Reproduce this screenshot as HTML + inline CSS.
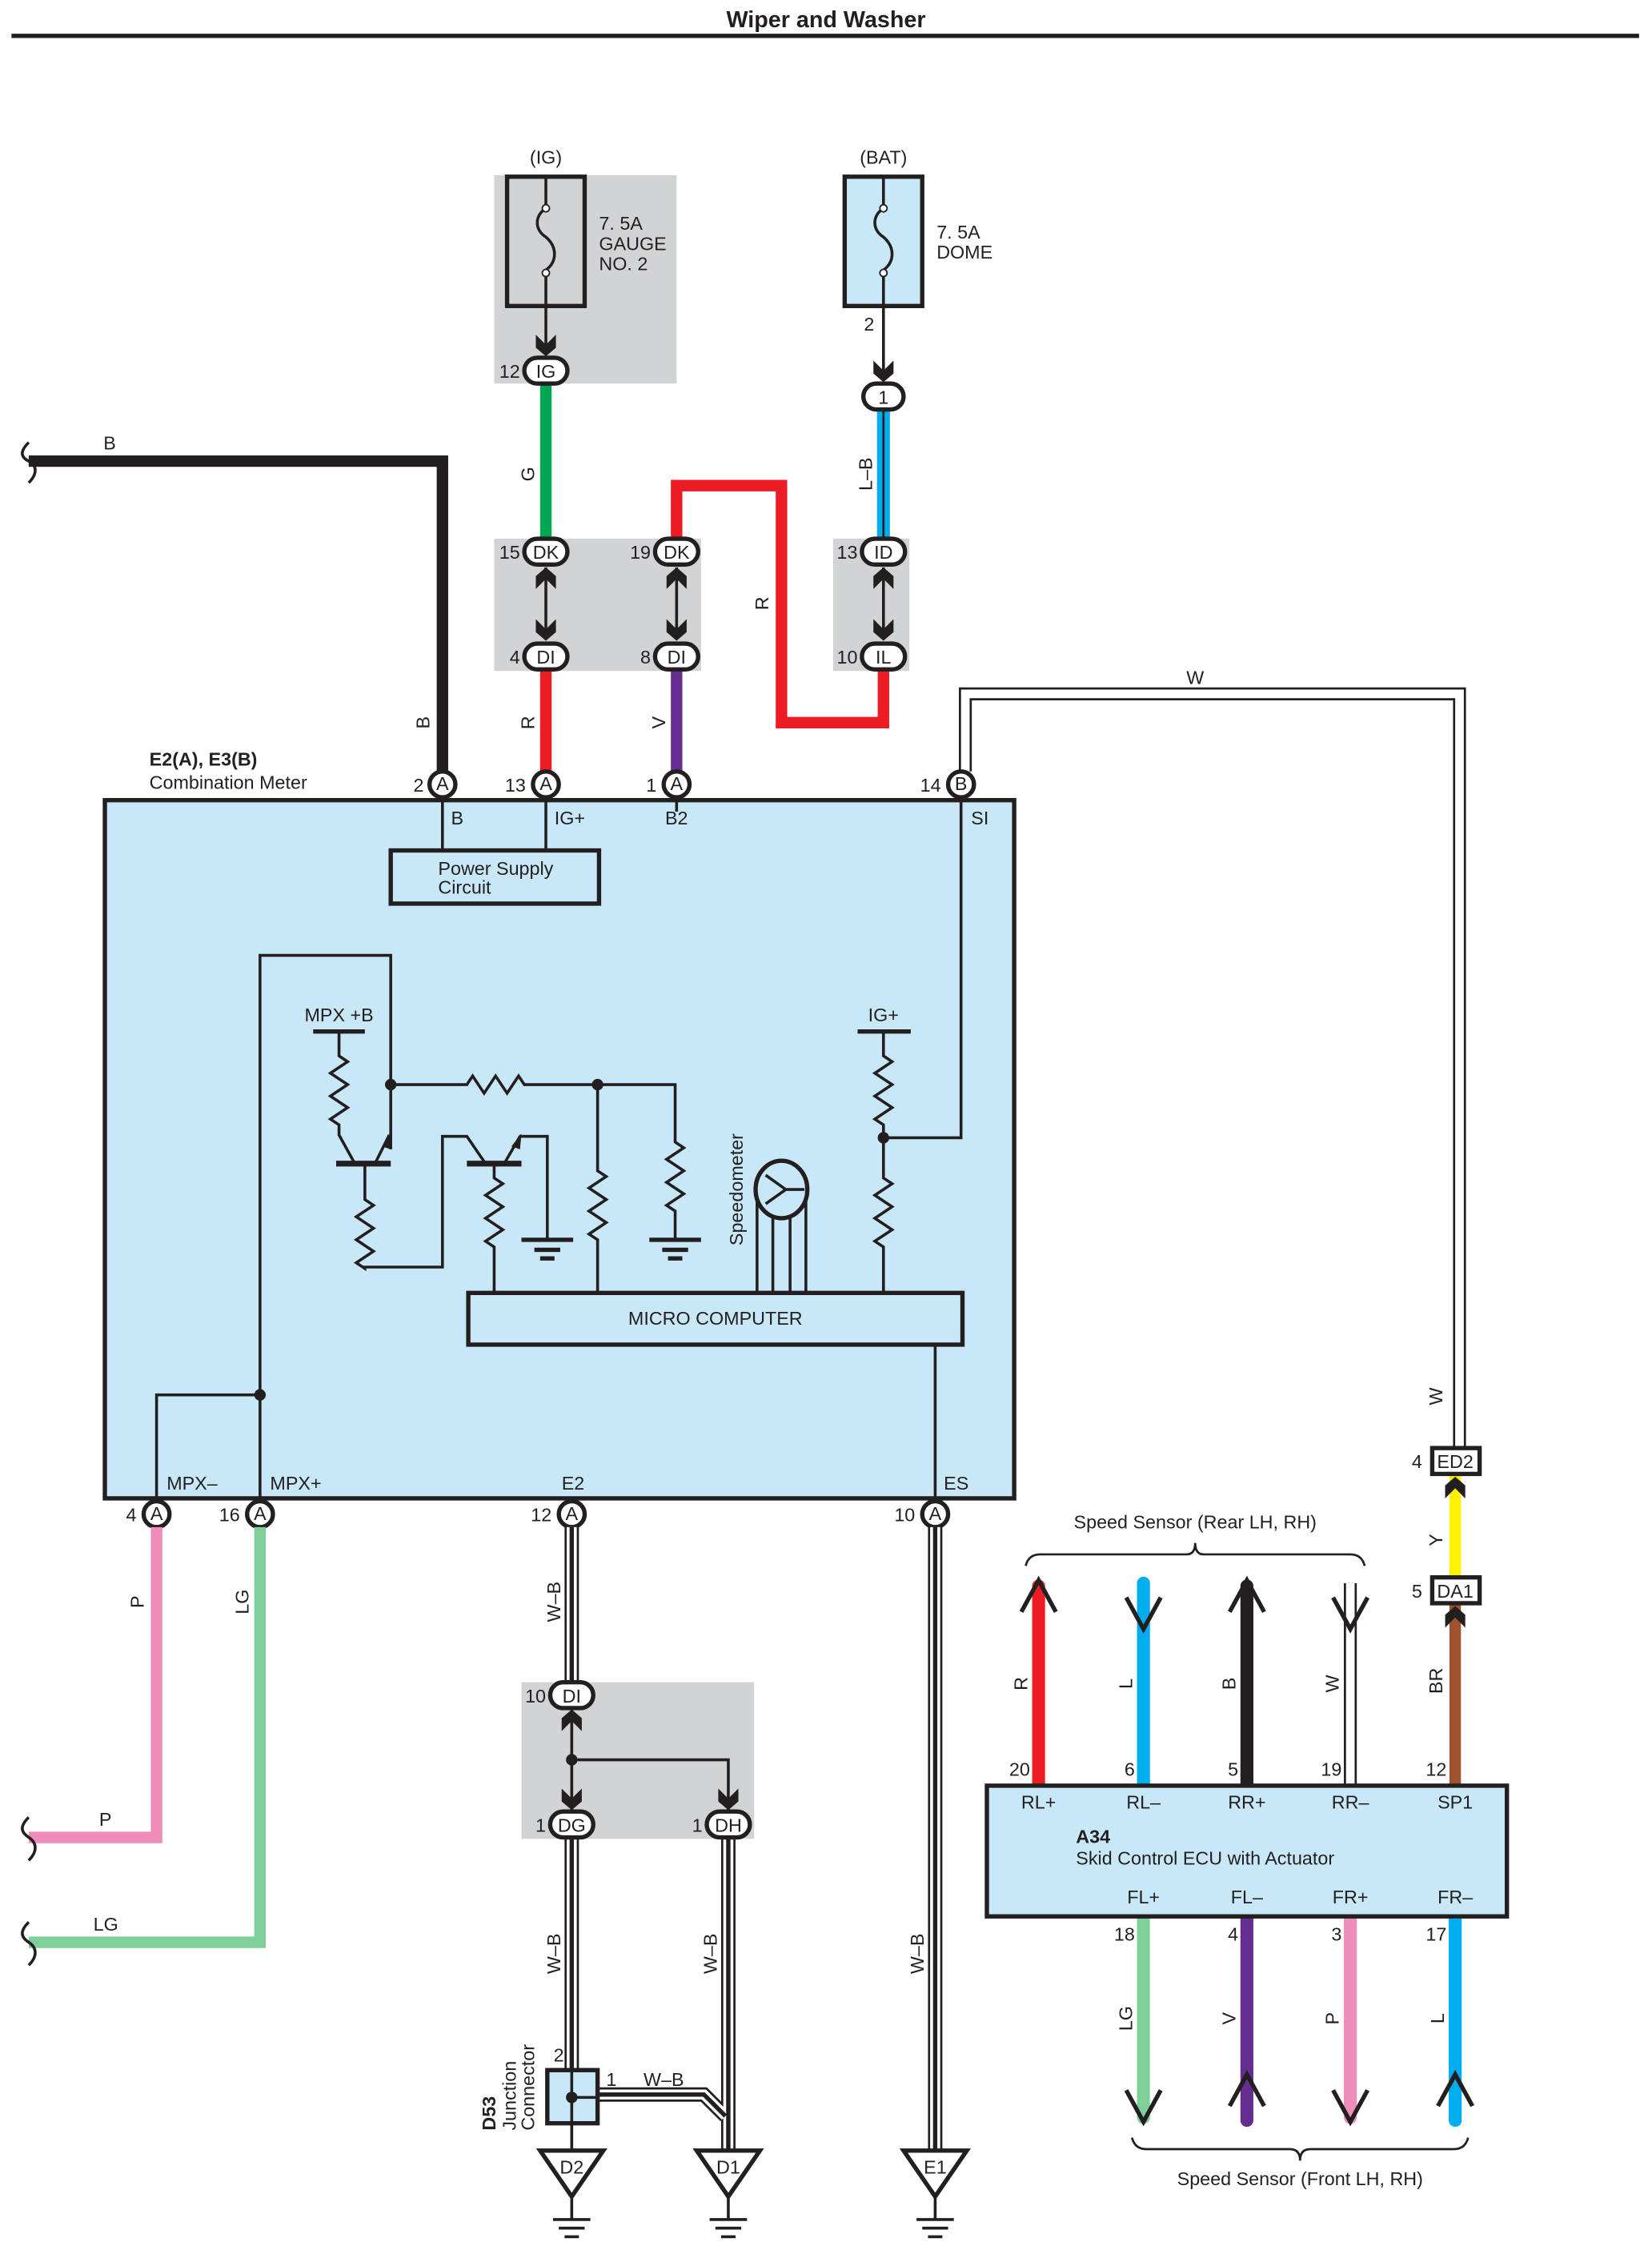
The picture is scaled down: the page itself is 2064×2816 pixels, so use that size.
<!DOCTYPE html>
<html><head><meta charset="utf-8"><style>
html,body{margin:0;padding:0;background:#fff}
svg{display:block}
text{font-family:"Liberation Sans",sans-serif;font-size:13px;fill:#231f20}
</style></head><body>
<svg width="2064" height="2816" viewBox="0 0 1150 1569" preserveAspectRatio="none" xmlns="http://www.w3.org/2000/svg">
<defs>
<g id="chd"><polygon points="-7,-15 0,-8 7,-15 7,-6 0,0 -7,-6" fill="#231f20"/></g>
<g id="chu"><polygon points="-7,15 0,8 7,15 7,6 0,0 -7,6" fill="#231f20"/></g>
</defs>
<text x="575" y="19" text-anchor="middle" font-weight="bold" style="font-size:16px">Wiper and Washer</text>
<line x1="8" y1="25" x2="1141" y2="25" stroke="#231f20" stroke-width="3"/>

<!-- gray boxes -->
<rect x="344" y="122" width="127" height="145" fill="#d1d3d4"/>
<rect x="344" y="375" width="144" height="92" fill="#d1d3d4"/>
<rect x="580" y="375" width="53" height="92" fill="#d1d3d4"/>
<rect x="363" y="1171" width="162" height="109" fill="#d1d3d4"/>

<!-- fuses -->
<text x="380" y="114" text-anchor="middle">(IG)</text>
<rect x="353" y="123" width="54" height="90" fill="#d1d3d4" stroke="#231f20" stroke-width="3"/>
<path d="M380 123 V145 C372 150 372 160 380 165 C388 172 388 182 380 188 V213" fill="none" stroke="#231f20" stroke-width="2"/>
<circle cx="380" cy="145" r="2.5" fill="#fff" stroke="#231f20"/><circle cx="380" cy="190" r="2.5" fill="#fff" stroke="#231f20"/>
<text x="417" y="160">7. 5A</text><text x="417" y="174">GAUGE</text><text x="417" y="188">NO. 2</text>
<text x="615" y="114" text-anchor="middle">(BAT)</text>
<rect x="588" y="123" width="54" height="90" fill="#c8e8f8" stroke="#231f20" stroke-width="3"/>
<path d="M615 123 V145 C607 150 607 160 615 165 C623 172 623 182 615 188 V213" fill="none" stroke="#231f20" stroke-width="2"/>
<circle cx="615" cy="145" r="2.5" fill="#fff" stroke="#231f20"/><circle cx="615" cy="190" r="2.5" fill="#fff" stroke="#231f20"/>
<text x="652" y="166">7. 5A</text><text x="652" y="180">DOME</text>
<text x="605" y="230" text-anchor="middle">2</text>
<line x1="380" y1="213" x2="380" y2="245" stroke="#231f20" stroke-width="2"/>
<use href="#chd" x="380" y="248"/>
<line x1="615" y1="213" x2="615" y2="263" stroke="#231f20" stroke-width="2"/>
<use href="#chd" x="615" y="266"/>

<!-- wires top -->
<line x1="380" y1="268" x2="380" y2="376" stroke="#00a651" stroke-width="8"/>
<text transform="translate(372,330) rotate(-90)" text-anchor="middle">G</text>
<line x1="615" y1="286" x2="615" y2="376" stroke="#00aeef" stroke-width="9"/>
<line x1="615" y1="286" x2="615" y2="376" stroke="#231f20" stroke-width="1.5"/>
<text transform="translate(607,330) rotate(-90)" text-anchor="middle">L–B</text>
<path d="M471 376 V338 H544 V503 H615 V467" fill="none" stroke="#ed1c24" stroke-width="8"/>
<text transform="translate(535,420) rotate(-90)" text-anchor="middle">R</text>
<path d="M20 321 H308 V537" fill="none" stroke="#231f20" stroke-width="8"/>
<text x="72" y="313">B</text>
<text transform="translate(299,503) rotate(-90)" text-anchor="middle">B</text>
<line x1="380" y1="467" x2="380" y2="537" stroke="#ed1c24" stroke-width="8"/>
<text transform="translate(372,503) rotate(-90)" text-anchor="middle">R</text>
<line x1="471" y1="467" x2="471" y2="537" stroke="#662d91" stroke-width="8"/>
<text transform="translate(463,503) rotate(-90)" text-anchor="middle">V</text>
<path d="M672 537 V483 H1016 V1008" fill="none" stroke="#231f20" stroke-width="9"/>
<path d="M672 537 V483 H1016 V1008" fill="none" stroke="#fff" stroke-width="6"/>
<text x="832" y="476" text-anchor="middle">W</text>
<text transform="translate(1004,972) rotate(-90)" text-anchor="middle">W</text>
<path d="M20 308 C14 314 14 318 20 321 C26 324 26 330 20 336" fill="none" stroke="#231f20" stroke-width="2"/>

<!-- DK/DI connectors -->
<g stroke="#231f20" stroke-width="2">
<line x1="380" y1="395" x2="380" y2="445"/><line x1="471" y1="395" x2="471" y2="445"/><line x1="615" y1="395" x2="615" y2="445"/>
</g>
<use href="#chu" x="380" y="395"/><use href="#chd" x="380" y="446"/>
<use href="#chu" x="471" y="395"/><use href="#chd" x="471" y="446"/>
<use href="#chu" x="615" y="395"/><use href="#chd" x="615" y="446"/>

<g stroke="#231f20" stroke-width="3" fill="#fff">
<rect x="365" y="249" width="30" height="18" rx="9"/>
<rect x="601" y="267" width="28" height="18" rx="9"/>
<rect x="365" y="375" width="30" height="18" rx="9"/>
<rect x="456" y="375" width="30" height="18" rx="9"/>
<rect x="600" y="375" width="30" height="18" rx="9"/>
<rect x="365" y="448" width="30" height="18" rx="9"/>
<rect x="456" y="448" width="30" height="18" rx="9"/>
<rect x="600" y="448" width="30" height="18" rx="9"/>
</g>
<g text-anchor="middle">
<text x="380" y="263">IG</text><text x="615" y="281">1</text>
<text x="380" y="389">DK</text><text x="471" y="389">DK</text><text x="615" y="389">ID</text>
<text x="380" y="462">DI</text><text x="471" y="462">DI</text><text x="615" y="462">IL</text>
</g>
<g text-anchor="end">
<text x="362" y="263">12</text>
<text x="362" y="389">15</text><text x="453" y="389">19</text><text x="597" y="389">13</text>
<text x="362" y="462">4</text><text x="453" y="462">8</text><text x="597" y="462">10</text>
</g>

<!-- Combination meter -->
<text x="104" y="533" font-weight="bold">E2(A), E3(B)</text>
<text x="104" y="549">Combination Meter</text>
<rect x="73" y="557" width="633" height="486" fill="#c8e8f8" stroke="#231f20" stroke-width="3"/>
<g fill="none" stroke="#231f20" stroke-width="2">
<line x1="308" y1="557" x2="308" y2="592"/><line x1="380" y1="557" x2="380" y2="592"/>
<line x1="471" y1="557" x2="471" y2="565"/>
<path d="M669 557 V792 H615"/>
<path d="M109 1043 V971 H181"/>
<path d="M181 1043 V665 H272 V800"/>
<!-- MPX+B -->
<line x1="218" y1="718" x2="254" y2="718" stroke-width="3"/>
<path d="M236 718 V735 l6 4 l-12 8 l12 8 l-12 8 l12 8 l-12 8 l6 4 V790 L247 810"/>
<line x1="234" y1="810" x2="272" y2="810" stroke-width="4"/>
<path d="M261 810 L271 790"/>
<path d="M254 810 V835 l6 4 l-12 8 l12 8 l-12 8 l12 8 l-12 8 l6 4 V882 H308 V791 H325 L338 810"/>
<line x1="325" y1="810" x2="363" y2="810" stroke-width="4"/>
<path d="M351 810 L362 791 H381 V863"/>
<line x1="363" y1="863" x2="399" y2="863" stroke-width="3"/>
<line x1="372" y1="870" x2="390" y2="870" stroke-width="3"/>
<line x1="376" y1="876" x2="386" y2="876" stroke-width="3"/>
<path d="M344 810 V820 l6 4 l-12 8 l12 8 l-12 8 l12 8 l-12 8 l6 4 V900"/>
<path d="M272 755 H325 l4 -6 l8 12 l8 -12 l8 12 l8 -12 l4 6 H470 V795 l6 4 l-12 8 l12 8 l-12 8 l12 8 l-12 8 l6 4 V863"/>
<line x1="452" y1="863" x2="488" y2="863" stroke-width="3"/>
<line x1="461" y1="870" x2="479" y2="870" stroke-width="3"/>
<line x1="465" y1="876" x2="475" y2="876" stroke-width="3"/>
<path d="M416 755 V815 l6 4 l-12 8 l12 8 l-12 8 l12 8 l-12 8 l6 4 V900"/>
<!-- IG+ -->
<line x1="597" y1="718" x2="634" y2="718" stroke-width="3"/>
<path d="M615 718 V735 l6 4 l-12 8 l12 8 l-12 8 l12 8 l-12 8 l6 4 V820 l6 4 l-12 8 l12 8 l-12 8 l12 8 l-12 8 l6 4 V900"/>
<!-- speedometer -->
<ellipse cx="544" cy="828" rx="18" ry="20" stroke-width="3"/>
<path d="M527 835 V900 M538 846 V900 M550 846 V900 M561 835 V900"/>
<path d="M533 818 L547 828 L533 838 M547 828 H560" stroke-width="2"/>
<line x1="651" y1="936" x2="651" y2="1043"/>
</g>
<polygon points="272,788 266,798 272,800" fill="#231f20"/>
<polygon points="363,789 356,798 362,800" fill="#231f20"/>
<g fill="#231f20">
<circle cx="272" cy="755" r="4"/><circle cx="416" cy="755" r="4"/><circle cx="615" cy="792" r="4"/><circle cx="181" cy="971" r="4"/>
</g>
<text x="236" y="711" text-anchor="middle">MPX +B</text>
<text x="615" y="711" text-anchor="middle">IG+</text>
<text transform="translate(517,828) rotate(-90)" text-anchor="middle">Speedometer</text>
<rect x="272" y="592" width="145" height="37" fill="#c8e8f8" stroke="#231f20" stroke-width="3"/>
<text x="305" y="609">Power Supply</text><text x="305" y="622">Circuit</text>
<rect x="326" y="900" width="344" height="36" fill="#c8e8f8" stroke="#231f20" stroke-width="3"/>
<text x="498" y="922" text-anchor="middle">MICRO COMPUTER</text>
<text x="314" y="574">B</text><text x="386" y="574">IG+</text><text x="463" y="574">B2</text><text x="676" y="574">SI</text>
<text x="116" y="1037">MPX–</text><text x="188" y="1037">MPX+</text><text x="391" y="1037">E2</text><text x="657" y="1037">ES</text>

<!-- pins -->
<g stroke="#231f20" stroke-width="3" fill="#fff">
<circle cx="308" cy="546" r="9"/><circle cx="380" cy="546" r="9"/><circle cx="471" cy="546" r="9"/><circle cx="669" cy="546" r="9"/>
<circle cx="109" cy="1054" r="9"/><circle cx="181" cy="1054" r="9"/><circle cx="398" cy="1054" r="9"/><circle cx="651" cy="1054" r="9"/>
</g>
<g text-anchor="middle" style="font-size:11px">
<text x="308" y="550">A</text><text x="380" y="550">A</text><text x="471" y="550">A</text><text x="669" y="550">B</text>
<text x="109" y="1058">A</text><text x="181" y="1058">A</text><text x="398" y="1058">A</text><text x="651" y="1058">A</text>
</g>
<g text-anchor="end">
<text x="295" y="551">2</text><text x="366" y="551">13</text><text x="457" y="551">1</text><text x="655" y="551">14</text>
<text x="95" y="1059">4</text><text x="167" y="1059">16</text><text x="384" y="1059">12</text><text x="637" y="1059">10</text>
</g>

<!-- bottom left wires -->
<path d="M109 1063 V1279 H20" fill="none" stroke="#f08cba" stroke-width="8"/>
<path d="M181 1063 V1352 H20" fill="none" stroke="#7fcf9a" stroke-width="8"/>
<path d="M20 1265 C14 1271 14 1275 20 1279 C26 1283 26 1289 20 1295" fill="none" stroke="#231f20" stroke-width="2"/>
<path d="M20 1338 C14 1344 14 1348 20 1352 C26 1356 26 1362 20 1368" fill="none" stroke="#231f20" stroke-width="2"/>
<text x="69" y="1271">P</text><text x="65" y="1344">LG</text>
<text transform="translate(100,1115) rotate(-90)" text-anchor="middle">P</text>
<text transform="translate(173,1115) rotate(-90)" text-anchor="middle">LG</text>

<!-- W-B wires -->
<g fill="none">
<path d="M398 1063 V1171 M398 1280 V1441 M507 1280 V1497 M651 1063 V1497 M416 1458 H490 L505 1473" stroke="#231f20" stroke-width="10"/>
<path d="M398 1063 V1171 M398 1280 V1441 M507 1280 V1497 M651 1063 V1497 M416 1458 H490 L505 1473" stroke="#fff" stroke-width="7"/>
<path d="M398 1063 V1171 M398 1280 V1441 M507 1280 V1497 M651 1063 V1497 M416 1458 H490 L505 1473" stroke="#231f20" stroke-width="3"/>
</g>
<text transform="translate(390,1115) rotate(-90)" text-anchor="middle">W–B</text>
<text transform="translate(390,1360) rotate(-90)" text-anchor="middle">W–B</text>
<text transform="translate(499,1360) rotate(-90)" text-anchor="middle">W–B</text>
<text transform="translate(643,1360) rotate(-90)" text-anchor="middle">W–B</text>
<g stroke="#231f20" stroke-width="2" fill="none">
<path d="M398 1190 V1260 M398 1225 H507 V1260"/>
</g>
<circle cx="398" cy="1225" r="4" fill="#231f20"/>
<use href="#chu" x="398" y="1190"/><use href="#chd" x="398" y="1260"/><use href="#chd" x="507" y="1260"/>
<g stroke="#231f20" stroke-width="3" fill="#fff">
<rect x="383" y="1171" width="30" height="18" rx="9"/>
<rect x="383" y="1261" width="30" height="18" rx="9"/>
<rect x="492" y="1261" width="30" height="18" rx="9"/>
</g>
<g text-anchor="middle"><text x="398" y="1185">DI</text><text x="398" y="1275">DG</text><text x="507" y="1275">DH</text></g>
<g text-anchor="end"><text x="380" y="1185">10</text><text x="380" y="1275">1</text><text x="489" y="1275">1</text></g>

<!-- D53 -->
<rect x="381" y="1441" width="35" height="37" fill="#c8e8f8" stroke="#231f20" stroke-width="3"/>
<path d="M398 1441 V1497 M398 1460 H416" stroke="#231f20" stroke-width="2"/>
<circle cx="398" cy="1460" r="4" fill="#231f20"/>
<text x="389" y="1435" text-anchor="middle">2</text>
<text x="422" y="1452">1</text><text x="448" y="1452">W–B</text>
<text transform="translate(345,1483) rotate(-90)" font-weight="bold">D53</text>
<text transform="translate(359,1483) rotate(-90)">Junction</text>
<text transform="translate(372,1483) rotate(-90)">Connector</text>

<!-- grounds -->
<g stroke="#231f20" stroke-width="3" fill="#fff">
<polygon points="376,1497 420,1497 398,1529"/>
<polygon points="485,1497 529,1497 507,1529"/>
<polygon points="629,1497 673,1497 651,1529"/>
</g>
<g stroke="#231f20" stroke-width="2">
<path d="M398 1529 V1545 M385 1545 H411 M389 1551 H407 M393 1557 H403"/>
<path d="M507 1529 V1545 M494 1545 H520 M498 1551 H516 M502 1557 H512"/>
<path d="M651 1529 V1545 M638 1545 H664 M642 1551 H660 M646 1557 H656"/>
</g>
<g text-anchor="middle"><text x="398" y="1513">D2</text><text x="507" y="1513">D1</text><text x="651" y="1513">E1</text></g>

<!-- ED2/DA1 -->
<line x1="1013" y1="1027" x2="1013" y2="1098" stroke="#fff200" stroke-width="8"/>
<line x1="1013" y1="1117" x2="1013" y2="1243" stroke="#a0522d" stroke-width="8"/>
<use href="#chu" x="1013" y="1028"/><use href="#chu" x="1013" y="1118"/>
<rect x="997" y="1008" width="33" height="18" fill="#fff" stroke="#231f20" stroke-width="3"/>
<rect x="997" y="1098" width="33" height="18" fill="#fff" stroke="#231f20" stroke-width="3"/>
<text x="1013" y="1022" text-anchor="middle">ED2</text><text x="1013" y="1112" text-anchor="middle">DA1</text>
<text x="990" y="1022" text-anchor="end">4</text><text x="990" y="1112" text-anchor="end">5</text>
<text transform="translate(1004,1072) rotate(-90)" text-anchor="middle">Y</text>
<text transform="translate(1004,1170) rotate(-90)" text-anchor="middle">BR</text>

<!-- sensors -->
<text x="832" y="1064" text-anchor="middle">Speed Sensor (Rear LH,  RH)</text>
<path d="M714 1090 Q716 1082 724 1082 H826 Q832 1082 832 1074 Q832 1082 838 1082 H940 Q948 1082 950 1090" fill="none" stroke="#231f20" stroke-width="1.5"/>
<text x="905" y="1521" text-anchor="middle">Speed Sensor (Front LH,  RH)</text>
<path d="M788 1488 Q790 1496 798 1496 H898 Q905 1496 905 1504 Q905 1496 912 1496 H1012 Q1020 1496 1022 1488" fill="none" stroke="#231f20" stroke-width="1.5"/>

<g stroke-linecap="round">
<line x1="723" y1="1104" x2="723" y2="1243" stroke="#ed1c24" stroke-width="9"/>
<line x1="796" y1="1102" x2="796" y2="1243" stroke="#00aeef" stroke-width="9"/>
<line x1="868" y1="1104" x2="868" y2="1243" stroke="#231f20" stroke-width="9"/>
<line x1="796" y1="1334" x2="796" y2="1474" stroke="#7fcf9a" stroke-width="9"/>
<line x1="868" y1="1334" x2="868" y2="1476" stroke="#662d91" stroke-width="9"/>
<line x1="940" y1="1334" x2="940" y2="1474" stroke="#f08cba" stroke-width="9"/>
<line x1="1013" y1="1334" x2="1013" y2="1476" stroke="#00aeef" stroke-width="9"/>
</g>
<path d="M940 1243 V1102" stroke="#231f20" stroke-width="9"/>
<path d="M940 1243 V1102" stroke="#fff" stroke-width="6"/>
<g fill="none" stroke="#231f20" stroke-width="3">
<path d="M711 1122 L723 1100 L735 1122"/>
<path d="M784 1112 L796 1134 L808 1112"/>
<path d="M856 1122 L868 1100 L880 1122"/>
<path d="M928 1112 L940 1134 L952 1112"/>
<path d="M784 1455 L796 1477 L808 1455"/>
<path d="M856 1466 L868 1444 L880 1466"/>
<path d="M928 1455 L940 1477 L952 1455"/>
<path d="M1001 1466 L1013 1444 L1025 1466"/>
</g>
<g>
<text transform="translate(715,1172) rotate(-90)" text-anchor="middle">R</text>
<text transform="translate(788,1172) rotate(-90)" text-anchor="middle">L</text>
<text transform="translate(860,1172) rotate(-90)" text-anchor="middle">B</text>
<text transform="translate(932,1172) rotate(-90)" text-anchor="middle">W</text>
<text transform="translate(788,1405) rotate(-90)" text-anchor="middle">LG</text>
<text transform="translate(860,1405) rotate(-90)" text-anchor="middle">V</text>
<text transform="translate(932,1405) rotate(-90)" text-anchor="middle">P</text>
<text transform="translate(1005,1405) rotate(-90)" text-anchor="middle">L</text>
</g>
<rect x="687" y="1243" width="362" height="91" fill="#c8e8f8" stroke="#231f20" stroke-width="3"/>
<g text-anchor="end">
<text x="717" y="1236">20</text><text x="790" y="1236">6</text><text x="862" y="1236">5</text><text x="934" y="1236">19</text><text x="1007" y="1236">12</text>
<text x="790" y="1351">18</text><text x="862" y="1351">4</text><text x="934" y="1351">3</text><text x="1007" y="1351">17</text>
</g>
<g text-anchor="middle">
<text x="723" y="1259">RL+</text><text x="796" y="1259">RL–</text><text x="868" y="1259">RR+</text><text x="940" y="1259">RR–</text><text x="1013" y="1259">SP1</text>
<text x="796" y="1325">FL+</text><text x="868" y="1325">FL–</text><text x="940" y="1325">FR+</text><text x="1013" y="1325">FR–</text>
</g>
<text x="749" y="1283" font-weight="bold">A34</text>
<text x="749" y="1298">Skid Control ECU with Actuator</text>
</svg>
</body></html>
